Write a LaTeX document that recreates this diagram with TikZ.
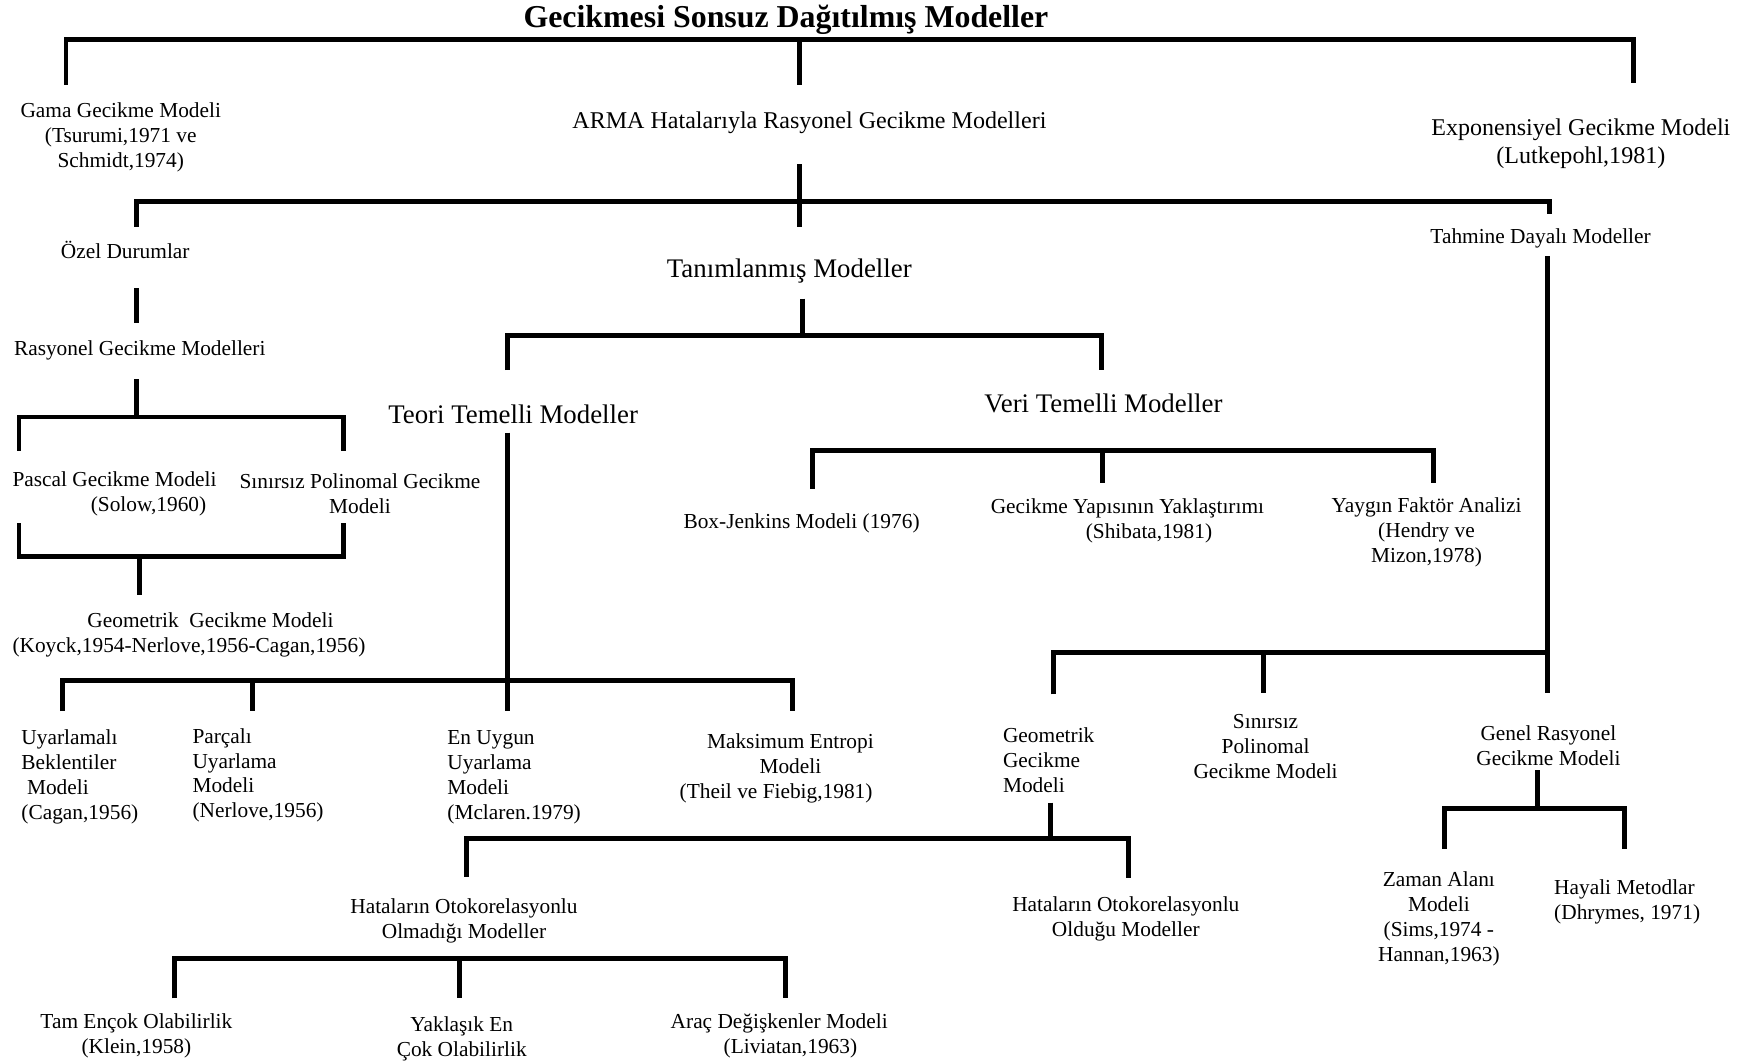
\documentclass[tikz,border=0pt]{standalone}
\usepackage{fontspec}
\setmainfont{Liberation Serif}
\begin{document}
\begin{tikzpicture}[x=1pt,y=-1pt,
  lbl/.style={inner sep=0pt,align=center,font=\fontsize{19.1}{22.3}\selectfont},
  lblL/.style={lbl,align=left,anchor=west},
  mid/.style={inner sep=0pt,align=center,font=\fontsize{21.5}{25}\selectfont},
  big/.style={inner sep=0pt,align=center,font=\fontsize{24}{28}\selectfont},
  ttl/.style={inner sep=0pt,font=\fontsize{28.5}{32}\selectfont\bfseries},
  br/.style={line width=4.4pt,line join=miter}]
\useasboundingbox (0,0) rectangle (1568,950);

% ---------- texts ----------
\begin{scope}[yshift=-2pt]
\node[ttl] (title) at (703,16) {Gecikmesi Sonsuz Dağıtılmış Modeller};
\node[lbl] (gama) at (108,120.5) {Gama Gecikme Modeli\\(Tsurumi,1971 ve\\Schmidt,1974)};
\node[mid] (arma) at (724,108) {ARMA Hatalarıyla Rasyonel Gecikme Modelleri};
\node[mid] (expo) at (1414,126.5) {Exponensiyel Gecikme Modeli\\(Lutkepohl,1981)};
\node[lbl] (ozel) at (112,222) {Özel Durumlar};
\node[big] (tanim) at (706,240) {Tanımlanmış Modeller};
\node[lbl] (tahmine) at (1378,211) {Tahmine Dayalı Modeller};
\node[lbl] (rasyonel) at (125,311) {Rasyonel Gecikme Modelleri};
\node[lblL] (pascal) at (11,440) {Pascal Gecikme Modeli\\\hspace*{70pt}(Solow,1960)};
\node[lbl] (sinirsizA) at (322,440) {Sınırsız Polinomal Gecikme\\Modeli};
\node[lblL] (geomA) at (11,566) {\hspace*{67pt}Geometrik\ \ Gecikme Modeli\\(Koyck,1954-Nerlove,1956-Cagan,1956)};
\node[big] (teori) at (459,369) {Teori Temelli Modeller};
\node[big] (veri) at (987,359) {Veri Temelli Modeller};
\node[lblL] (uyarlamali) at (19,693) {Uyarlamalı\\Beklentiler\\\hspace*{5pt}Modeli\\(Cagan,1956)};
\node[lblL] (parcali) at (172,691.5) {Parçalı\\Uyarlama\\Modeli\\(Nerlove,1956)};
\node[lblL] (enuygun) at (400,693) {En Uygun\\Uyarlama\\Modeli\\(Mclaren.1979)};
\node[lbl] (maksimum) at (707,685) {Maksimum Entropi\\Modeli\\\makebox[198pt][l]{(Theil ve Fiebig,1981)}};
\node[lbl] (boxj) at (717,466) {Box-Jenkins Modeli (1976)};
\node[lblL] (gecyap) at (886,464) {Gecikme Yapısının Yaklaştırımı\\\hspace*{85pt}(Shibata,1981)};
\node[lbl] (yaygin) at (1276,474) {Yaygın Faktör Analizi\\(Hendry ve\\Mizon,1978)};
\node[lblL] (geomB) at (897,678) {Geometrik\\Gecikme\\Modeli};
\node[lbl] (sinirsizB) at (1132,665.5) {Sınırsız\\Polinomal\\Gecikme Modeli};
\node[lbl] (genel) at (1385,665) {Genel Rasyonel\\Gecikme Modeli};
\node[lbl] (zaman) at (1287,820) {Zaman Alanı\\Modeli\\(Sims,1974 -\\Hannan,1963)};
\node[lblL] (hayali) at (1390,805) {Hayali Metodlar\\(Dhrymes, 1971)};
\node[lbl] (hatA) at (415,822) {Hataların Otokorelasyonlu\\Olmadığı Modeller};
\node[lbl] (hatB) at (1007,820) {Hataların Otokorelasyonlu\\Olduğu Modeller};
\node[lbl] (tam) at (122,924.5) {Tam Ençok Olabilirlik\\(Klein,1958)};
\node[lbl] (yaklasik) at (413,927) {Yaklaşık En\\Çok Olabilirlik};
\node[lbl] (arac) at (697,924.5) {Araç Değişkenler Modeli\\\hspace*{20pt}(Liviatan,1963)};
\end{scope}

% ---------- bracket coordinates ----------
\coordinate (a1) at (59,76);   \coordinate (a2) at (59,35);
\coordinate (a3) at (1461,35); \coordinate (a4) at (1461,74);
\coordinate (a5) at (715,35);  \coordinate (a6) at (715,76);

\coordinate (b0) at (715,147); \coordinate (b00) at (715,203);
\coordinate (b1) at (122,203); \coordinate (b2) at (122,180);
\coordinate (b3) at (1386,180);\coordinate (b4) at (1386,191);

\coordinate (c1) at (122,258); \coordinate (c2) at (122,289);
\coordinate (c3) at (122,339); \coordinate (c4) at (122,373);
\coordinate (c5) at (17,403);  \coordinate (c6) at (17,373);
\coordinate (c7) at (307,373); \coordinate (c8) at (307,403);
\coordinate (c9) at (17,468);  \coordinate (c10) at (17,498);
\coordinate (c11) at (307,498);\coordinate (c12) at (307,468);
\coordinate (c13) at (125,498);\coordinate (c14) at (125,532);

\coordinate (d1) at (718,267); \coordinate (d2) at (718,300);
\coordinate (d3) at (454,331); \coordinate (d4) at (454,300);
\coordinate (d5) at (985,300); \coordinate (d6) at (985,331);

\coordinate (e1) at (454,387); \coordinate (e2) at (454,636);
\coordinate (e3) at (56,636);  \coordinate (e4) at (56,609);
\coordinate (e5) at (709,609); \coordinate (e6) at (709,636);
\coordinate (e7) at (226,609); \coordinate (e8) at (226,636);

\coordinate (f1) at (727,437); \coordinate (f2) at (727,403);
\coordinate (f3) at (1282,403);\coordinate (f4) at (1282,432);
\coordinate (f5) at (986,403); \coordinate (f6) at (986,432);

\coordinate (g1) at (1384,229); \coordinate (g2) at (1384,620);
\coordinate (g3) at (942,621);  \coordinate (g4) at (942,584);
\coordinate (g5) at (1384,584); \coordinate (g6) at (1130,584);
\coordinate (g7) at (1130,620);

\coordinate (h1) at (940,718);  \coordinate (h2) at (940,750);
\coordinate (h3) at (417,784);  \coordinate (h4) at (417,750);
\coordinate (h5) at (1009,750); \coordinate (h6) at (1009,785);

\coordinate (i1) at (1375,689); \coordinate (i2) at (1375,723);
\coordinate (i3) at (1292,759); \coordinate (i4) at (1292,723);
\coordinate (i5) at (1453,723); \coordinate (i6) at (1453,759);

\coordinate (j1) at (156,893);  \coordinate (j2) at (156,857);
\coordinate (j3) at (703,857);  \coordinate (j4) at (703,893);
\coordinate (j5) at (411,857);  \coordinate (j6) at (411,893);

% ---------- brackets ----------
\draw[br] (a1) -- (a2) -- (a3) -- (a4);
\draw[br] (a5) -- (a6);
\draw[br] (b0) -- (b00);
\draw[br] (b1) -- (b2) -- (b3) -- (b4);
\draw[br] (c1) -- (c2);
\draw[br] (c3) -- (c4);
\draw[br] (c5) -- (c6) -- (c7) -- (c8);
\draw[br] (c9) -- (c10) -- (c11) -- (c12);
\draw[br] (c13) -- (c14);
\draw[br] (d1) -- (d2);
\draw[br] (d3) -- (d4) -- (d5) -- (d6);
\draw[br] (e1) -- (e2);
\draw[br] (e3) -- (e4) -- (e5) -- (e6);
\draw[br] (e7) -- (e8);
\draw[br] (f1) -- (f2) -- (f3) -- (f4);
\draw[br] (f5) -- (f6);
\draw[br] (g1) -- (g2);
\draw[br] (g3) -- (g4) -- (g5);
\draw[br] (g6) -- (g7);
\draw[br] (h1) -- (h2);
\draw[br] (h3) -- (h4) -- (h5) -- (h6);
\draw[br] (i1) -- (i2);
\draw[br] (i3) -- (i4) -- (i5) -- (i6);
\draw[br] (j1) -- (j2) -- (j3) -- (j4);
\draw[br] (j5) -- (j6);
\end{tikzpicture}
\end{document}
